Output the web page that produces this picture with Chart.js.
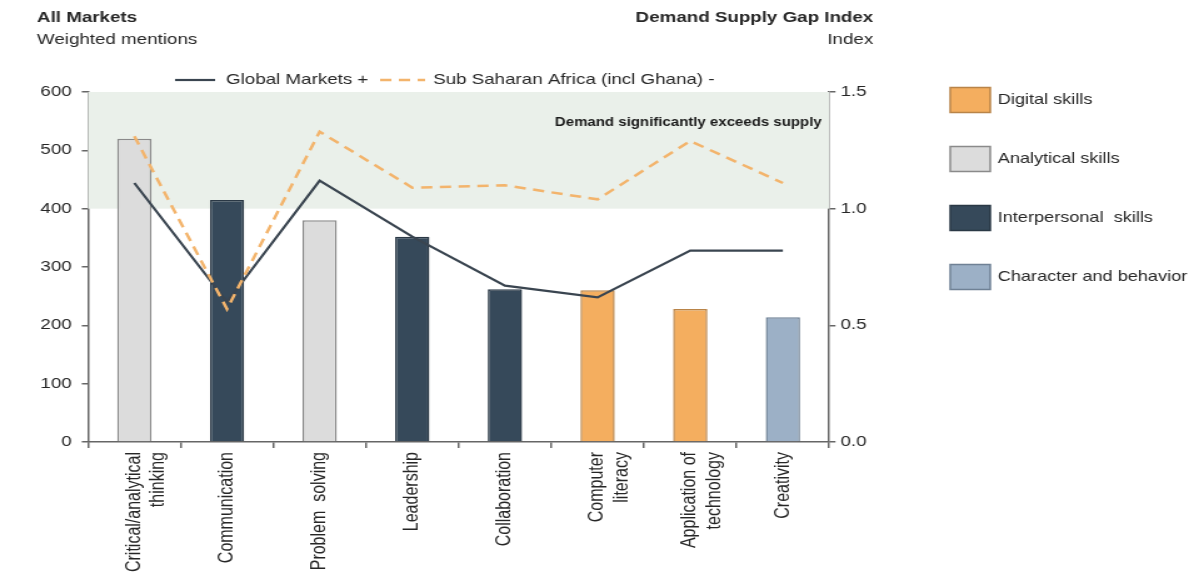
<!DOCTYPE html>
<html>
<head>
<meta charset="utf-8">
<title>Skills demand</title>
<script src="https://cdn.jsdelivr.net/npm/chart.js@4.4.1/dist/chart.umd.min.js"></script>
<style>
  html, body { margin: 0; padding: 0; background: #fff; overflow: hidden; }
  /* chart is laid out narrow and stretched sideways */
  #wrap { width: 951px; height: 579px; transform: scaleX(1.2503); transform-origin: 0 0; }
</style>
</head>
<body>
<div id="wrap"><canvas id="skills"></canvas></div>
<script>
const categories = [
  ['Critical/analytical', 'thinking'],
  'Communication',
  'Problem  solving',
  'Leadership',
  'Collaboration',
  ['Computer', 'literacy'],
  ['Application of', 'technology'],
  'Creativity'
];
const skillGroup = ['Analytical', 'Interpersonal', 'Analytical', 'Interpersonal', 'Interpersonal', 'Digital', 'Digital', 'Character'];
const mentions = [520, 415, 380, 352, 262, 260, 228, 214];
const globalIndex = [1.11, 0.60, 1.12, 0.88, 0.67, 0.62, 0.82, 0.82];
const ssaIndex = [1.31, 0.57, 1.33, 1.09, 1.10, 1.04, 1.29, 1.11];
const mentionTicks = [0, 100, 200, 300, 400, 500, 600];
const indexTicks = [0, 0.5, 1.0, 1.5];

const groups = [
  { key: 'Digital', label: 'Digital skills', fill: '#f4ae5f', edge: '#b98448' },
  { key: 'Analytical', label: 'Analytical skills', fill: '#dcdcdc', edge: '#8a8a8a' },
  { key: 'Interpersonal', label: 'Interpersonal  skills', fill: '#36495a', edge: '#2a3845' },
  { key: 'Character', label: 'Character and behavior', fill: '#9cb0c6', edge: '#6f8195' }
];
const groupOf = k => groups.find(g => g.key === k);

const FONT = '"Liberation Sans", Arial, sans-serif';
const TEXT = '#262626';

const decor = {
  id: 'decor',
  beforeDatasetsDraw(chart) {
    const { ctx, chartArea, scales } = chart;
    const yTop = scales.y1.getPixelForValue(1.5);
    const yBot = scales.y1.getPixelForValue(1.0);
    ctx.save();
    ctx.fillStyle = '#eaf0ea';
    ctx.fillRect(chartArea.left, yTop, chartArea.right - chartArea.left, yBot - yTop);
    ctx.fillStyle = '#1a1a1a';
    ctx.font = 'bold 12px ' + FONT;
    ctx.textAlign = 'right';
    ctx.textBaseline = 'middle';
    ctx.fillText('Demand significantly exceeds supply', chartArea.right - 6, 123);
    ctx.restore();
  },
  afterDraw(chart) {
    const { ctx } = chart;
    ctx.save();
    ctx.textBaseline = 'middle';
    ctx.fillStyle = TEXT;

    // headers
    ctx.textAlign = 'left';
    ctx.font = 'bold 15px ' + FONT;
    ctx.fillText('All Markets', 29.6, 18);
    ctx.font = '15px ' + FONT;
    ctx.fillText('Weighted mentions', 29.6, 40);
    ctx.textAlign = 'right';
    ctx.font = 'bold 15px ' + FONT;
    ctx.fillText('Demand Supply Gap Index', 698.4, 18);
    ctx.font = '15px ' + FONT;
    ctx.fillText('Index', 698.4, 40);

    // line legend
    ctx.textAlign = 'left';
    ctx.lineWidth = 2.2;
    ctx.strokeStyle = '#3a4550';
    ctx.beginPath(); ctx.moveTo(140, 80); ctx.lineTo(172, 80); ctx.stroke();
    ctx.fillText('Global Markets +', 180.8, 80);
    ctx.strokeStyle = '#f3b46c';
    ctx.lineWidth = 2.5;
    ctx.setLineDash([9, 6]);
    ctx.beginPath(); ctx.moveTo(304, 80); ctx.lineTo(340, 80); ctx.stroke();
    ctx.setLineDash([]);
    ctx.fillText('Sub Saharan Africa (incl Ghana) -', 346.4, 80);

    // group legend
    const rows = [100, 159, 218, 277];
    groups.forEach((g, i) => {
      const y = rows[i];
      ctx.fillStyle = g.fill;
      ctx.fillRect(760, y - 12.5, 32, 25);
      ctx.strokeStyle = g.edge;
      ctx.lineWidth = 1.5;
      ctx.strokeRect(760, y - 12.5, 32, 25);
      ctx.fillStyle = TEXT;
      ctx.font = '14.5px ' + FONT;
      ctx.fillText(g.label, 798, y);
    });
    ctx.restore();
  }
};

new Chart(document.getElementById('skills'), {
  data: {
    labels: categories,
    datasets: [
      {
        type: 'line',
        label: 'Sub Saharan Africa (incl Ghana) -',
        data: ssaIndex,
        yAxisID: 'y1',
        borderColor: '#f3b46c',
        borderWidth: 2.5,
        borderDash: [9, 6],
        pointRadius: 0,
        tension: 0,
        order: 1
      },
      {
        type: 'line',
        label: 'Global Markets +',
        data: globalIndex,
        yAxisID: 'y1',
        borderColor: '#3a4550',
        borderWidth: 2.2,
        pointRadius: 0,
        tension: 0,
        order: 2
      },
      {
        type: 'bar',
        label: 'Weighted mentions',
        data: mentions,
        yAxisID: 'y',
        backgroundColor: skillGroup.map(k => groupOf(k).fill),
        borderColor: skillGroup.map(k => groupOf(k).edge),
        borderWidth: 1.5,
        categoryPercentage: 1,
        barPercentage: 0.37,
        order: 3
      }
    ]
  },
  options: {
    responsive: true,
    maintainAspectRatio: false,
    animation: false,
    layout: { padding: { top: 92, left: 0, right: 0, bottom: 0 } },
    plugins: { legend: { display: false }, tooltip: { enabled: false } },
    scales: {
      x: {
        offset: true,
        grid: { offset: true, drawOnChartArea: false, tickLength: 6, color: '#666', lineWidth: 1.5 },
        border: { color: '#666', width: 1.5 },
        ticks: { maxRotation: 90, minRotation: 90, padding: 4, color: TEXT, font: { family: FONT, size: 16 } },
        afterFit(scale) { scale.height = 137; }
      },
      y: {
        position: 'left',
        min: 0,
        max: 600,
        afterBuildTicks(scale) { scale.ticks = mentionTicks.map(v => ({ value: v })); },
        grid: { drawOnChartArea: false, tickLength: 5, color: '#666', lineWidth: 1.5 },
        border: { color: '#666', width: 1.5 },
        ticks: { padding: 8, color: TEXT, font: { family: FONT, size: 15 } },
        afterFit(scale) { scale.width = 70.4; }
      },
      y1: {
        position: 'right',
        min: 0,
        max: 1.5,
        afterBuildTicks(scale) { scale.ticks = indexTicks.map(v => ({ value: v })); },
        grid: { drawOnChartArea: false, tickLength: 5, color: '#666', lineWidth: 1.5 },
        border: { color: '#666', width: 1.5 },
        ticks: { padding: 4, color: TEXT, font: { family: FONT, size: 15 }, callback: v => Number(v).toFixed(1) },
        afterFit(scale) { scale.width = 951 - 663.2; }
      }
    }
  },
  plugins: [decor]
});
</script>
</body>
</html>
